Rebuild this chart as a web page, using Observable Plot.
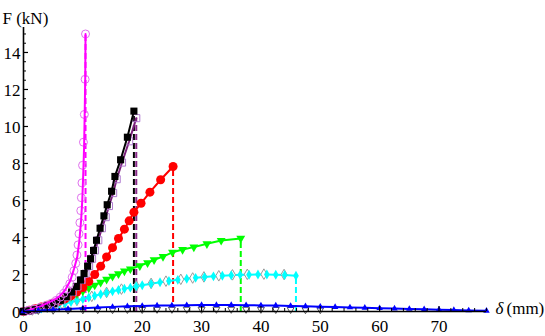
<!DOCTYPE html>
<html><head><meta charset="utf-8">
<script src="https://cdn.jsdelivr.net/npm/d3@7"></script>
<script src="https://cdn.jsdelivr.net/npm/@observablehq/plot@0.6"></script>
<style>body{margin:0;background:#fff} svg text{font-family:"Liberation Serif","Times New Roman",serif !important;}</style>
</head><body><div id="chart"></div>
<script>
// ---- data (δ in mm, F in kN) ----
const magX = [0, 1, 2, 3, 4, 5, 6, 7, 7.9, 8.5, 9.05, 9.4, 9.7, 9.9, 10.05, 10.2, 10.3, 10.4, 10.45];
const magY = [0, 0.08, 0.18, 0.3, 0.45, 0.6, 0.8, 1.15, 1.68, 2.3, 2.93, 3.8, 4.9, 6.0, 7.3, 8.8, 10.5, 12.6, 15.0];

const pinkX = [0.8, 1.8, 2.8, 3.8, 4.7, 5.5, 6.2, 6.8, 7.3, 7.8, 8.2, 8.5, 8.8, 9.0, 9.2, 9.35, 9.5, 9.65, 9.75, 9.85, 9.95, 10.1, 10.25, 10.38, 10.45];
const pinkY = [0.06, 0.13, 0.22, 0.33, 0.45, 0.6, 0.78, 0.98, 1.2, 1.5, 1.85, 2.2, 2.6, 3.05, 3.6, 4.2, 4.8, 5.45, 6.15, 6.95, 7.9, 9.15, 10.65, 12.55, 15.0];

const blkX = [0, 0.8, 1.8, 2.9, 4.0, 5.1, 6.2, 7.2, 8.1, 8.9, 9.6, 10.2, 10.8, 11.3, 11.8, 12.3, 12.9, 13.55, 14.1, 14.84, 15.4, 16.36, 17.5, 18.6];
const blkY = [0, 0.04, 0.1, 0.19, 0.3, 0.43, 0.6, 0.8, 1.05, 1.35, 1.7, 2.05, 2.45, 2.85, 3.3, 3.85, 4.5, 5.17, 5.77, 6.5, 7.3, 8.2, 9.42, 10.83];

const purX = [0, 1.0, 2.0, 3.1, 4.2, 5.3, 6.4, 7.4, 8.3, 9.1, 9.8, 10.45, 11.05, 11.55, 12.05, 12.6, 13.2, 13.85, 14.4, 15.1, 15.7, 16.6, 17.8, 19.0];
const purY = [0, 0.04, 0.1, 0.19, 0.3, 0.43, 0.6, 0.8, 1.05, 1.35, 1.7, 2.05, 2.45, 2.85, 3.3, 3.85, 4.5, 5.1, 5.7, 6.4, 7.15, 8.05, 9.2, 10.45];

const redX = [0, 1, 2, 3, 4, 5, 6, 7, 8, 9, 10, 11, 12, 13, 14, 15, 16, 17, 17.8, 18.6, 19.8, 21.3, 23.1, 25.2];
const redY = [0, 0.07, 0.15, 0.24, 0.34, 0.45, 0.56, 0.68, 0.85, 1.05, 1.3, 1.62, 2.0, 2.45, 2.95, 3.45, 3.95, 4.45, 4.9, 5.37, 5.85, 6.45, 7.12, 7.84];

const grnX = [0, 1, 2, 3, 4, 5, 6, 7, 8, 9, 10, 11, 12, 13, 14, 15, 16, 17, 18, 19.6, 20.9, 22, 23.5, 25.1, 26.8, 28.7, 30.9, 33.3, 36.6];
const grnY = [0, 0.07, 0.15, 0.24, 0.34, 0.45, 0.56, 0.68, 0.81, 0.95, 1.1, 1.26, 1.42, 1.58, 1.74, 1.9, 2.04, 2.18, 2.3, 2.47, 2.63, 2.79, 2.97, 3.2, 3.35, 3.48, 3.66, 3.84, 3.95];

const cyX = [0, 1, 2, 3, 4, 5, 6, 7, 8, 9, 10, 11, 12, 13, 14, 15, 16, 17, 18, 19, 20, 21.5, 23, 24.5, 26, 27.5, 29, 30.5, 32, 33.5, 35, 36.5, 38, 39.5, 41, 42.5, 44, 45.9];
const cyY = [0, 0.05, 0.1, 0.16, 0.22, 0.29, 0.36, 0.43, 0.51, 0.59, 0.67, 0.76, 0.85, 0.93, 1.01, 1.09, 1.16, 1.23, 1.29, 1.36, 1.42, 1.5, 1.58, 1.65, 1.71, 1.77, 1.82, 1.86, 1.9, 1.93, 1.96, 1.98, 1.99, 2.0, 2.0, 1.99, 1.97, 1.93];

const grayX = [1.5, 4, 6.5, 9, 11.5, 14, 16.5, 19, 21.5, 24, 26.5, 28.5, 30.4, 32.9, 35.2, 37.7, 40.5, 43.9];
const grayY = [0.08, 0.23, 0.41, 0.6, 0.82, 1.03, 1.21, 1.38, 1.52, 1.64, 1.74, 1.81, 1.87, 1.93, 1.98, 2.01, 2.02, 2.0];

const bluX = [0, 2.5, 5, 7.5, 10, 12.5, 15, 17.5, 20, 22.5, 25, 27.5, 30, 32.5, 35, 37.5, 40, 42.5, 45, 47.5, 50, 52.5, 55, 57.5, 60, 62.5, 65, 67.5, 70, 72.5, 75, 78];
const bluY = [0, 0.05, 0.1, 0.14, 0.18, 0.22, 0.25, 0.28, 0.3, 0.32, 0.33, 0.34, 0.35, 0.35, 0.35, 0.34, 0.33, 0.32, 0.3, 0.28, 0.26, 0.24, 0.22, 0.2, 0.18, 0.16, 0.14, 0.12, 0.1, 0.08, 0.06, 0.04];

const openX = [2.5, 5, 7.5, 10, 12.5, 15, 17.5, 20, 22.5, 25, 27.5, 30, 32.5, 35, 37.5, 40, 42.5, 45, 47.5, 50];
const openY = [0.06, 0.07, 0.08, 0.09, 0.1, 0.1, 0.11, 0.11, 0.12, 0.12, 0.12, 0.12, 0.12, 0.12, 0.12, 0.12, 0.11, 0.11, 0.1, 0.1];

// failure drops (dashed verticals)
const dropX = [10.45, 18.6, 19.0, 25.2, 36.6, 45.9];
const dropY = [15.0, 10.83, 10.45, 7.84, 3.95, 1.93];
const dropC = ["#ff00ff", "#000000", "#8a2a8a", "#ff0000", "#00ff00", "#00ffff"];

const xTicks = [0, 10, 20, 30, 40, 50, 60, 70];
const yTicks = [0, 2, 4, 6, 8, 10, 12, 14];
const xMinor = d3.range(2, 78.1, 2).filter(v => v % 10 !== 0);
const yMinor = d3.range(0.5, 15.3, 0.5).filter(v => v % 2 !== 0);

// ---- layout ----
const W = 545, H = 336, mL = 23, mR = 59, mT = 27, mB = 25;
const xMax = 78, yMax = 15.35;
const ux = (W - mL - mR) / xMax;  // px per mm
const uy = (H - mT - mB) / yMax;  // px per kN
const FONT = "'Liberation Serif', 'Times New Roman', serif";
const FS = 17;

const pts = (xs, ys) => xs.map((x, i) => ({x, y: ys[i]}));
const mag = pts(magX, magY), pink = pts(pinkX, pinkY), blk = pts(blkX, blkY), pur = pts(purX, purY);
const red = pts(redX, redY), grn = pts(grnX, grnY), cy = pts(cyX, cyY), gray = pts(grayX, grayY);
const blu = pts(bluX, bluY), open = pts(openX, openY);
const drops = dropX.map((x, i) => ({x, y: dropY[i], c: dropC[i]}));

const chart = Plot.plot({
  width: W, height: H,
  marginLeft: mL, marginRight: mR, marginTop: mT, marginBottom: mB,
  x: {domain: [0, xMax], label: null, axis: null},
  y: {domain: [0, yMax], label: null, axis: null},
  color: {type: "identity"},
  style: {fontFamily: FONT, fontSize: FS + "px", background: "white", overflow: "visible"},
  marks: [
    Plot.ruleX(drops, {x: "x", y1: 0, y2: "y", stroke: "c", strokeWidth: 2, strokeDasharray: "6,3"}),
    Plot.line(cy, {x: "x", y: "y", stroke: "#00ffff", strokeWidth: 2}),
    Plot.dot(gray, {x: "x", y: "y", symbol: "diamond", r: 3.2, stroke: "#999999", fill: "white", strokeWidth: 1}),
    Plot.dot(cy, {x: "x", y: "y", symbol: "diamond", r: 3, fill: "#00ffff"}),
    Plot.line(grn, {x: "x", y: "y", stroke: "#00ff00", strokeWidth: 2}),
    Plot.dot(grn, {x: "x", y: "y", symbol: "triangle", rotate: 180, r: 3.3, fill: "#00ff00"}),
    Plot.line(red, {x: "x", y: "y", stroke: "#ff0000", strokeWidth: 2}),
    Plot.dot(red, {x: "x", y: "y", r: 4.5, fill: "#ff0000"}),
    Plot.line(pur, {x: "x", y: "y", stroke: "#7a1f7a", strokeWidth: 2}),
    Plot.dot(pur, {x: "x", y: "y", symbol: "square", r: 4, stroke: "#b07ad0", fill: "none", strokeWidth: 1}),
    Plot.line(blk, {x: "x", y: "y", stroke: "#000000", strokeWidth: 2}),
    Plot.dot(blk, {x: "x", y: "y", symbol: "square", r: 4, fill: "#000000"}),
    Plot.dot(pink, {x: "x", y: "y", r: 4, stroke: "#e070ee", fill: "none", strokeWidth: 1}),
    Plot.line(mag, {x: "x", y: "y", stroke: "#ff00ff", strokeWidth: 2}),
    Plot.dot(open, {x: "x", y: "y", symbol: "triangle", rotate: 180, r: 2.6, stroke: "#555", fill: "white", strokeWidth: 1}),
    Plot.line(blu, {x: "x", y: "y", stroke: "#0000ff", strokeWidth: 2}),
    Plot.dot(blu, {x: "x", y: "y", symbol: "triangle", r: 2.4, fill: "#0000ff"}),
    // axes
    Plot.ruleY([0], {stroke: "black", strokeWidth: 1.6}),
    Plot.ruleX([0], {stroke: "black", strokeWidth: 1.6}),
    Plot.ruleX(xTicks.slice(1), {x: d => d, y1: 0, y2: 5 / uy, stroke: "black", strokeWidth: 1.2}),
    Plot.ruleX(xMinor, {x: d => d, y1: 0, y2: 3 / uy, stroke: "black", strokeWidth: 1}),
    Plot.ruleY(yTicks.slice(1), {y: d => d, x1: 0, x2: 5 / ux, stroke: "black", strokeWidth: 1.2}),
    Plot.ruleY(yMinor, {y: d => d, x1: 0, x2: 3 / ux, stroke: "black", strokeWidth: 1}),
    // tick labels
    Plot.text(xTicks, {x: d => d, y: 0, dy: 15, text: d => String(d), fontSize: FS, fontFamily: FONT, fill: "black", textAnchor: "middle"}),
    Plot.text(yTicks, {x: 0, y: d => d, dx: -3, dy: 1, text: d => String(d), fontSize: FS, fontFamily: FONT, fill: "black", textAnchor: "end"}),
    // axis labels
    Plot.text(["F (kN)"], {text: d => d, frameAnchor: "top-left", dx: -21, dy: -16, textAnchor: "start", fontSize: FS, fontFamily: FONT, fill: "black"}),
    Plot.text(["δ"], {text: d => d, frameAnchor: "bottom-right", dx: 9, dy: 2, textAnchor: "start", fontSize: FS, fontStyle: "italic", fontFamily: FONT, fill: "black"}),
    Plot.text(["(mm)"], {text: d => d, frameAnchor: "bottom-right", dx: 20, dy: 2, textAnchor: "start", fontSize: FS, fontFamily: FONT, fill: "black"})
  ]
});
document.getElementById("chart").appendChild(chart);
</script>
</body></html>
